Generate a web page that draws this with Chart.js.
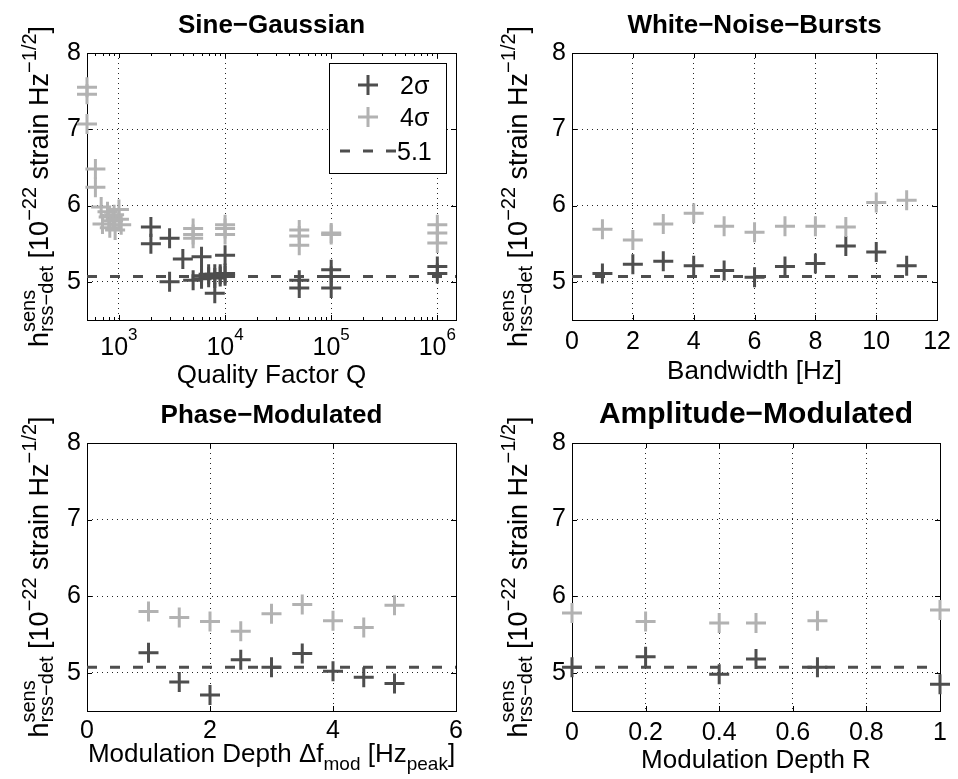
<!DOCTYPE html>
<html>
<head>
<meta charset="utf-8">
<script src="https://cdn.jsdelivr.net/npm/chart.js@4/dist/chart.umd.min.js"></script>
<style>
html,body{margin:0;padding:0;background:#fff;}
#wrap{position:relative;width:958px;height:779px;overflow:hidden;background:#fff;}
canvas{position:absolute;}
</style>
</head>
<body>
<div id="wrap">
<canvas id="c1" width="479" height="390" style="left:0;top:0"></canvas>
<canvas id="c2" width="479" height="390" style="left:479px;top:0"></canvas>
<canvas id="c3" width="479" height="389" style="left:0;top:390px"></canvas>
<canvas id="c4" width="479" height="389" style="left:479px;top:390px"></canvas>
</div>
<script>
// ---------------- data ----------------
const THRESH = 5.07;              // dashed reference line (legend "5.1")
const yTicks = [5, 6, 7, 8];

// Sine-Gaussian (x = quality factor Q, log axis)
const sgTicks = [1e3, 1e4, 1e5, 1e6];
const sgQ2 = [2000, 2000, 3000, 3000, 4000, 5000, 6000, 6000, 6000, 7000, 7000, 8000, 8000, 8000, 9000, 9000, 10000, 10000, 10000, 50000, 50000, 100000, 100000, 100000, 1000000, 1000000];
const sg2  = [5.72, 5.50, 5.57, 5.00, 5.30, 5.02, 5.33, 5.04, 5.08, 5.06, 5.10, 5.05, 5.10, 4.85, 5.07, 5.10, 5.08, 5.11, 5.35, 5.02, 4.92, 5.16, 5.07, 4.92, 5.20, 5.11];
const sgQ4 = [500, 500, 500, 600, 600, 680, 700, 780, 800, 820, 900, 880, 920, 1000, 1000, 1050, 5000, 5000, 5000, 10000, 10000, 10000, 50000, 50000, 50000, 100000, 100000, 1000000, 1000000, 1000000];
const sg4  = [7.55, 7.46, 7.07, 6.48, 6.24, 5.98, 5.76, 5.92, 5.85, 5.71, 5.88, 5.80, 5.68, 5.95, 5.82, 5.75, 5.70, 5.62, 5.57, 5.75, 5.70, 5.62, 5.68, 5.60, 5.48, 5.64, 5.62, 5.75, 5.64, 5.51];

// White-Noise-Bursts (x = bandwidth [Hz])
const wnbTicks = [0, 2, 4, 6, 8, 10, 12];
const wnbX = [1, 2, 3, 4, 5, 6, 7, 8, 9, 10, 11];
const wnb2 = [5.11, 5.23, 5.27, 5.21, 5.15, 5.06, 5.20, 5.24, 5.47, 5.39, 5.21];
const wnb4 = [5.69, 5.55, 5.76, 5.90, 5.73, 5.65, 5.73, 5.73, 5.72, 6.04, 6.07];

// Phase-Modulated (x = modulation depth Δf_mod)
const pmTicks = [0, 2, 4, 6];
const pmX = [1, 1.5, 2, 2.5, 3, 3.5, 4, 4.5, 5];
const pm2 = [5.26, 4.88, 4.71, 5.17, 5.07, 5.25, 5.02, 4.94, 4.86];
const pm4 = [5.80, 5.72, 5.67, 5.54, 5.77, 5.89, 5.68, 5.59, 5.88];

// Amplitude-Modulated (x = modulation depth R)
const amTicks = [0, 0.2, 0.4, 0.6, 0.8, 1];
const amX = [0, 0.2, 0.4, 0.5, 0.667, 1];
const am2 = [5.07, 5.21, 4.98, 5.18, 5.07, 4.85];
const am4 = [5.78, 5.67, 5.65, 5.65, 5.68, 5.82];

// ---------------- styling ----------------
const FONT = '"Liberation Sans", Arial, Helvetica, sans-serif';
const DARK = 'rgb(78,78,78)';
const LIGHT = 'rgb(178,178,178)';
const DASH = [10, 13];

function fnt(size, bold) { return (bold ? 'bold ' : '') + size + 'px ' + FONT; }
function measureRun(ctx, r) {
  if (r.stack) return Math.max.apply(null, r.stack.map(s => measureRun(ctx, s)));
  ctx.font = fnt(r.size, r.bold);
  return ctx.measureText(r.t).width;
}
function drawRuns(ctx, list, x, y) {
  let cx = x;
  for (const r of list) {
    const parts = r.stack ? r.stack : [r];
    for (const s of parts) { ctx.font = fnt(s.size, s.bold); ctx.fillText(s.t, cx, y + (s.dy || 0)); }
    cx += measureRun(ctx, r);
  }
}
function drawCentered(ctx, list, cx, y) {
  const w = list.reduce((a, r) => a + measureRun(ctx, r), 0);
  drawRuns(ctx, list, cx - w / 2, y);
}

const yLabelRuns = [
  {t: 'h', size: 27},
  {stack: [{t: 'sens', size: 20, dy: -13}, {t: 'rss\u2212det', size: 20, dy: 5}]},
  {t: ' [10', size: 27},
  {t: '\u221222', size: 20, dy: -12},
  {t: ' strain Hz', size: 27},
  {t: '\u22121/2', size: 20, dy: -12},
  {t: ']', size: 27}
];

function minorLog(min, max) {
  const out = [];
  for (let e = Math.floor(Math.log10(min)); e <= Math.ceil(Math.log10(max)); e++) {
    for (let m = 2; m <= 9; m++) { const v = m * Math.pow(10, e); if (v > min && v < max) out.push(v); }
  }
  return out;
}

const panels = [
  {id: 'c1', W: 479, H: 390, area: {left: 87, top: 53, right: 456, bottom: 320}, log: true,
   xMin: 500, xMax: 1.5e6, xTicks: sgTicks, x2: sgQ2, y2: sg2, x4: sgQ4, y4: sg4,
   title: 'Sine\u2212Gaussian', titleSize: 26, legend: true,
   xTitle: [{t: 'Quality Factor Q', size: 26}], xTitleDy: 63, tickPad: 7},
  {id: 'c2', W: 479, H: 390, area: {left: 93, top: 53, right: 461, bottom: 320}, log: false,
   xMin: 0, xMax: 12, xTicks: wnbTicks, x2: wnbX, y2: wnb2, x4: wnbX, y4: wnb4,
   title: 'White\u2212Noise\u2212Bursts', titleSize: 26,
   xTitle: [{t: 'Bandwidth [Hz]', size: 26}], xTitleDy: 59, tickPad: 7},
  {id: 'c3', W: 479, H: 389, area: {left: 87, top: 53, right: 456, bottom: 321}, log: false,
   xMin: 0, xMax: 6, xTicks: pmTicks, x2: pmX, y2: pm2, x4: pmX, y4: pm4,
   title: 'Phase\u2212Modulated', titleSize: 26,
   xTitle: [{t: 'Modulation Depth \u0394f', size: 26}, {t: 'mod', size: 19, dy: 8}, {t: ' [Hz', size: 26}, {t: 'peak', size: 19, dy: 8}, {t: ']', size: 26}],
   xTitleDy: 51, tickPad: 5},
  {id: 'c4', W: 479, H: 389, area: {left: 93, top: 53, right: 461, bottom: 321}, log: false,
   xMin: 0, xMax: 1, xTicks: amTicks, x2: amX, y2: am2, x4: amX, y4: am4,
   title: 'Amplitude\u2212Modulated', titleSize: 30,
   xTitle: [{t: 'Modulation Depth R', size: 26}], xTitleDy: 57, tickPad: 7}
];

function pairs(xs, ys) { return xs.map((x, i) => ({x: x, y: ys[i]})); }

function cross(ctx, x, y, r, color) {
  ctx.save(); ctx.strokeStyle = color; ctx.lineWidth = 3; ctx.beginPath();
  ctx.moveTo(x - r, y); ctx.lineTo(x + r, y); ctx.moveTo(x, y - r); ctx.lineTo(x, y + r);
  ctx.stroke(); ctx.restore();
}

function build(c) {
  const A = c.area;
  const minors = c.log ? minorLog(c.xMin, c.xMax) : [];
  const deco = {
    id: 'deco',
    beforeDatasetsDraw(chart) {
      const ctx = chart.ctx, ca = chart.chartArea, xs = chart.scales.x, ys = chart.scales.y;
      ctx.save();
      ctx.strokeStyle = '#000'; ctx.lineWidth = 1;
      ctx.beginPath();
      const tickX = (v, len) => {
        const p = Math.round(xs.getPixelForValue(v)) + 0.5;
        ctx.moveTo(p, ca.bottom); ctx.lineTo(p, ca.bottom - len);
        ctx.moveTo(p, ca.top); ctx.lineTo(p, ca.top + len);
      };
      c.xTicks.forEach(v => tickX(v, 5));
      minors.forEach(v => tickX(v, 3));
      yTicks.forEach(v => {
        const p = Math.round(ys.getPixelForValue(v)) + 0.5;
        ctx.moveTo(ca.left, p); ctx.lineTo(ca.left + 5, p);
        ctx.moveTo(ca.right, p); ctx.lineTo(ca.right - 5, p);
      });
      ctx.stroke();
      ctx.strokeRect(Math.round(ca.left) + 0.5, Math.round(ca.top) + 0.5, Math.round(ca.right - ca.left), Math.round(ca.bottom - ca.top));
      ctx.restore();
    },
    afterDraw(chart) {
      const ctx = chart.ctx, ca = chart.chartArea, xs = chart.scales.x;
      const cx = (ca.left + ca.right) / 2;
      ctx.save();
      ctx.fillStyle = '#000'; ctx.textAlign = 'left'; ctx.textBaseline = 'alphabetic';
      drawCentered(ctx, [{t: c.title, size: c.titleSize, bold: true}], cx, 33);
      drawCentered(ctx, c.xTitle, cx, ca.bottom + c.xTitleDy);
      if (c.log) {
        c.xTicks.forEach(v => {
          const p = xs.getPixelForValue(v);
          drawCentered(ctx, [{t: '10', size: 25}, {t: String(Math.round(Math.log10(v))), size: 17, dy: -15}], p, ca.bottom + 35);
        });
      }
      ctx.save();
      ctx.translate(48, (ca.top + ca.bottom) / 2);
      ctx.rotate(-Math.PI / 2);
      drawCentered(ctx, yLabelRuns, 0, 0);
      ctx.restore();
      if (c.legend) {
        ctx.fillStyle = '#fff'; ctx.fillRect(329, 63, 117, 110);
        ctx.strokeStyle = '#000'; ctx.lineWidth = 1; ctx.strokeRect(329.5, 63.5, 117, 110);
        cross(ctx, 368, 85, 10, DARK);
        cross(ctx, 368, 117, 10, LIGHT);
        ctx.save(); ctx.strokeStyle = DARK; ctx.lineWidth = 3; ctx.setLineDash(DASH);
        ctx.beginPath(); ctx.moveTo(340, 151); ctx.lineTo(396, 151); ctx.stroke(); ctx.restore();
        ctx.fillStyle = '#000'; ctx.font = fnt(25);
        ctx.fillText('2\u03c3', 400, 94);
        ctx.fillText('4\u03c3', 400, 126);
        ctx.fillText('5.1', 397, 160);
      }
      ctx.restore();
    }
  };
  const gridOpt = {color: 'rgba(0,0,0,0.85)', lineWidth: 1, drawTicks: false};
  new Chart(document.getElementById(c.id), {
    type: 'scatter',
    data: {datasets: [
      {type: 'line', label: '5.1', data: [{x: c.xMin, y: THRESH}, {x: c.xMax, y: THRESH}], borderColor: DARK, borderWidth: 3, borderDash: DASH, pointRadius: 0, fill: false, order: 0},
      {label: '4\u03c3', data: pairs(c.x4, c.y4), pointStyle: 'cross', pointRadius: 10, borderColor: LIGHT, backgroundColor: LIGHT, borderWidth: 3, order: 1, clip: false},
      {label: '2\u03c3', data: pairs(c.x2, c.y2), pointStyle: 'cross', pointRadius: 10, borderColor: DARK, backgroundColor: DARK, borderWidth: 3, order: 2, clip: false}
    ]},
    options: {
      responsive: false, animation: false, events: [],
      layout: {padding: {left: 0, top: A.top, right: c.W - A.right, bottom: 0}},
      plugins: {legend: {display: false}, title: {display: false}, tooltip: {enabled: false}},
      scales: {
        x: {
          type: c.log ? 'logarithmic' : 'linear', min: c.xMin, max: c.xMax, position: 'bottom',
          afterBuildTicks: s => { s.ticks = c.xTicks.map(v => ({value: v})); },
          afterFit: s => { s.height = c.H - A.bottom; },
          grid: gridOpt, border: {display: false, dash: [1, 4]},
          ticks: {display: !c.log, autoSkip: false, maxRotation: 0, minRotation: 0, padding: c.tickPad, color: '#000', font: {family: FONT, size: 25},
                  callback: v => String(v)}
        },
        y: {
          type: 'linear', min: 4.5, max: 8, position: 'left',
          afterBuildTicks: s => { s.ticks = yTicks.map(v => ({value: v})); },
          afterFit: s => { s.width = A.left; },
          grid: gridOpt, border: {display: false, dash: [1, 4]},
          ticks: {padding: 6, color: '#000', font: {family: FONT, size: 25}, callback: v => String(v)}
        }
      }
    },
    plugins: [deco]
  });
}
panels.forEach(build);
</script>
</body>
</html>
